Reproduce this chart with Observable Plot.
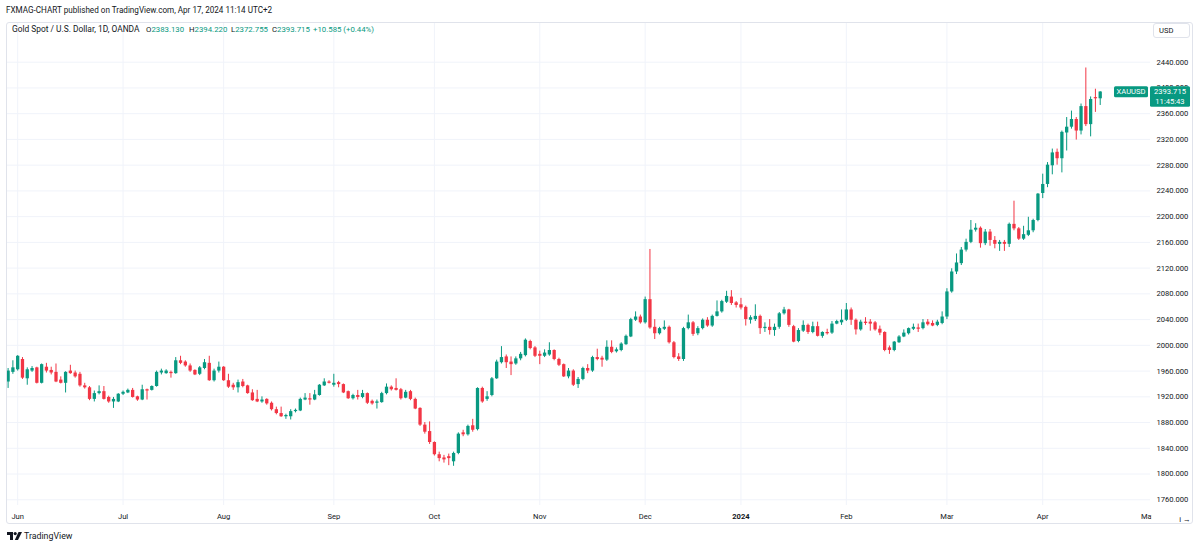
<!DOCTYPE html>
<html><head><meta charset="utf-8">
<script src="https://cdn.jsdelivr.net/npm/d3@7"></script>
<script src="https://cdn.jsdelivr.net/npm/@observablehq/plot@0.6"></script>
<style>
body{margin:0;width:1200px;height:549px;background:#fff;font-family:Roboto,"Noto Sans",sans-serif;color:#131722;position:relative;overflow:hidden}
#pub{position:absolute;left:6px;top:5px;font-size:8.15px;white-space:nowrap}
#chart{position:absolute;left:6px;top:22px}
#border{position:absolute;left:6px;top:22px;width:1187px;height:502px;border:1px solid #e0e3eb;border-radius:3px;box-sizing:border-box;pointer-events:none}
.lg{position:absolute;top:24px;font-size:7.8px;line-height:11px;white-space:nowrap}
.lg.t{font-size:8.4px}
.g{color:#089981}
#usd{position:absolute;left:1153px;top:23px;width:37px;height:15px;border:1px solid #e0e3eb;border-radius:3px;box-sizing:border-box;font-size:7.6px;line-height:13px;padding-left:5px;background:#fff}
#logo{position:absolute;left:7px;top:531px;font-size:8.8px;white-space:nowrap;display:flex;align-items:center;gap:2px}
</style></head><body>
<div id="pub">FXMAG-CHART published on TradingView.com, Apr 17, 2024 11:14 UTC+2</div>
<div id="chart"></div>
<div id="border"></div>
<div id="usd">USD</div>
<div id="logo"><svg width="15" height="8" viewBox="0 0 15 8"><path d="M0 0h6v8h-3v-5h-3z" fill="#131722"/><circle cx="8.2" cy="1.6" r="1.6" fill="#131722"/><path d="M11.5 0h3.5l-4 8h-3.2z" fill="#131722"/></svg><span>TradingView</span></div>
<script>
const seriesName = "Gold Spot / U.S. Dollar, 1D, OANDA";
const symbol = "XAUUSD";
const clockLabel = "11:45:43";
const startDate = "2023-05-30";
const axisEndDate = "2024-05-01";
const closedDays = ["2023-12-25", "2024-01-01", "2024-03-29"];
const monthLabels = ["Jun","Jul","Aug","Sep","Oct","Nov","Dec","2024","Feb","Mar","Apr","May"];
const priceTicks = [1760,1800,1840,1880,1920,1960,2000,2040,2080,2120,2160,2200,2240,2280,2320,2360,2400,2440];

const open = [
1943,1958,1962,1978,1948,1960,1965,1941,1966,1961,
1958,1946,1941,1960,1957,1955,1937,1934,1916,1925,
1928,1919,1912,1912,1924,1926,1930,1920,1915,1931,
1930,1936,1957,1956,1958,1956,1976,1974,1968,1961,
1955,1964,1972,1945,1960,1966,1945,1938,1934,1943,
1937,1926,1916,1912,1916,1910,1900,1894,1889,1889,
1897,1898,1915,1917,1915,1922,1937,1943,1938,1942,
1939,1928,1917,1922,1919,1925,1913,1910,1911,1925,
1935,1933,1931,1918,1928,1916,1902,1876,1866,1849,
1830,1825,1827,1819,1832,1864,1861,1875,1869,1933,
1916,1922,1948,1973,1982,1974,1971,1979,1984,2006,
1996,1986,1983,1985,1992,1978,1970,1951,1960,1939,
1947,1964,1960,1981,1980,1977,1997,1990,1992,2001,
2013,2039,2044,2035,2071,2028,2018,2025,2028,2004,
1982,1978,2026,2035,2018,2026,2039,2030,2045,2052,
2067,2075,2066,2063,2059,2039,2040,2045,2026,2028,
2023,2028,2049,2055,2029,2006,2022,2031,2020,2029,
2014,2020,2019,2033,2035,2039,2055,2039,2024,2036,
2036,2035,2025,2020,1996,1992,2004,2013,2018,2025,
2027,2026,2036,2034,2031,2034,2044,2083,2114,2127,
2148,2160,2179,2182,2158,2176,2163,2157,2160,2157,
2188,2181,2165,2171,2178,2194,2236,2250,2279,2300,
2290,2330,2339,2351,2333,2371,2343,2385,2383.13];

const high = [
1964,1976,1984,1981,1965,1967,1966,1971,1972,1966,
1971,1951,1959,1969,1960,1958,1941,1936,1929,1937,
1936,1921,1919,1925,1929,1932,1933,1921,1938,1932,
1937,1960,1963,1962,1960,1981,1983,1976,1971,1962,
1967,1978,1983,1963,1974,1967,1955,1941,1946,1947,
1938,1931,1930,1920,1917,1912,1904,1904,1893,1900,
1901,1918,1925,1925,1930,1939,1948,1945,1955,1944,
1940,1929,1924,1930,1930,1926,1915,1915,1927,1940,
1937,1948,1933,1930,1930,1918,1903,1880,1881,1850,
1834,1829,1831,1834,1864,1868,1876,1885,1934,1935,
1928,1950,1977,1998,1985,1982,1982,1989,2010,2008,
1998,1991,1993,2004,1993,1980,1971,1964,1962,1950,
1966,1970,1983,1994,1983,2007,2007,1996,2004,2016,
2042,2052,2047,2075,2149,2040,2028,2038,2030,2006,
1987,2028,2047,2037,2029,2041,2043,2047,2069,2070,
2084,2085,2068,2073,2061,2046,2063,2047,2035,2040,
2033,2051,2059,2056,2031,2026,2038,2033,2036,2036,
2021,2025,2037,2039,2055,2065,2058,2041,2039,2043,
2040,2037,2030,2021,1999,2006,2015,2024,2027,2033,
2033,2040,2040,2038,2039,2052,2088,2119,2142,2152,
2165,2194,2189,2184,2180,2180,2169,2163,2163,2190,
2224,2183,2185,2199,2196,2236,2266,2284,2305,2305,
2333,2354,2364,2354,2375,2431,2386,2398,2394.22];

const low = [
1933,1955,1960,1947,1938,1958,1940,1940,1957,1954,
1942,1940,1926,1955,1949,1935,1932,1914,1912,1923,
1915,1910,1902,1911,1922,1925,1918,1913,1914,1915,
1929,1935,1954,1955,1949,1955,1970,1966,1958,1953,
1953,1962,1944,1943,1957,1944,1933,1930,1926,1934,
1924,1913,1911,1910,1907,1898,1892,1888,1885,1884,
1895,1897,1914,1907,1914,1921,1936,1940,1935,1934,
1925,1916,1915,1915,1917,1908,1907,1901,1910,1923,
1929,1929,1915,1917,1914,1900,1874,1862,1846,1828,
1819,1817,1813,1812,1830,1858,1859,1865,1867,1910,
1913,1920,1947,1971,1964,1953,1969,1976,1982,1993,
1981,1970,1981,1983,1976,1967,1950,1948,1936,1933,
1945,1956,1958,1976,1966,1975,1987,1988,1990,2000,
2012,2037,2033,2033,2025,2009,2016,2023,2002,1979,
1975,1975,2024,2014,2015,2024,2028,2028,2044,2050,
2065,2062,2058,2055,2030,2033,2037,2017,2020,2016,
2014,2025,2047,2028,2004,2004,2020,2017,2018,2013,
2011,2016,2017,2032,2031,2037,2031,2016,2022,2031,
2022,2022,2015,1990,1986,1990,2003,2012,2016,2023,
2020,2024,2030,2029,2029,2032,2040,2081,2110,2124,
2145,2158,2176,2151,2155,2154,2150,2146,2146,2152,
2178,2163,2163,2169,2175,2192,2228,2245,2265,2280,
2268,2302,2336,2319,2327,2340,2324,2362,2372.755];

const close = [
1960,1965,1983,1949,1962,1964,1941,1970,1960,1957,
1943,1941,1958,1956,1951,1937,1934,1916,1925,1928,
1916,1912,1916,1924,1927,1930,1919,1915,1931,1929,
1936,1958,1960,1960,1956,1976,1972,1968,1960,1954,
1965,1973,1945,1960,1966,1945,1935,1934,1942,1936,
1925,1914,1912,1915,1909,1900,1894,1889,1891,1897,
1899,1916,1918,1915,1923,1938,1943,1941,1941,1939,
1926,1917,1922,1919,1925,1910,1909,1912,1925,1935,
1931,1930,1917,1927,1916,1901,1876,1865,1849,1830,
1824,1822,1824,1832,1862,1861,1874,1868,1933,1912,
1920,1948,1974,1981,1973,1970,1979,1986,2008,1995,
1983,1983,1988,1992,1978,1969,1951,1960,1938,1947,
1964,1960,1981,1978,1977,1997,1989,1993,2002,2014,
2040,2044,2035,2071,2027,2018,2026,2028,2004,1981,
1978,2026,2035,2017,2026,2039,2030,2045,2052,2068,
2076,2065,2062,2058,2040,2043,2045,2026,2028,2023,
2028,2049,2055,2031,2005,2023,2031,2020,2029,2014,
2020,2018,2033,2037,2039,2055,2039,2024,2036,2034,
2033,2024,2019,1992,1992,2005,2013,2019,2026,2028,
2025,2035,2032,2030,2036,2044,2083,2114,2128,2148,
2160,2179,2182,2158,2176,2163,2157,2160,2157,2188,
2181,2165,2172,2178,2194,2235,2250,2280,2299,2290,
2331,2339,2351,2333,2371,2343,2382,2383.13,2393.715];

const UP = "#089981", DOWN = "#f23645", GRID = "#f0f3fa", INK = "#131722";

// trading-day calendar (weekdays without closed days)
const days = [];
for (let t = Date.parse(startDate); t <= Date.parse(axisEndDate); t += 864e5) {
  const d = new Date(t), wd = d.getUTCDay(), s = d.toISOString().slice(0, 10);
  if (wd !== 0 && wd !== 6 && !closedDays.includes(s)) days.push(s);
}
const monthIdx = [];
for (let i = 1; i < days.length; i++) if (days[i].slice(5, 7) !== days[i - 1].slice(5, 7)) monthIdx.push(i);
const tickText = new Map(monthIdx.map((v, k) => [v, monthLabels[k]]));

const rows = close.map((c, i) => ({i, o: open[i], h: high[i], l: low[i], c, col: c >= open[i] ? UP : DOWN}));

const W = 1187, H = 502, PLOT_RIGHT = 1144, FRAME_BOTTOM = 483;
const plot = Plot.plot({
  width: W, height: H,
  marginLeft: 0, marginRight: W - PLOT_RIGHT, marginTop: 0, marginBottom: H - FRAME_BOTTOM,
  style: {fontFamily: "Roboto, sans-serif", fontSize: "7.6px", color: INK, background: "transparent"},
  x: {type: "linear", domain: [-0.334, 238.5]},
  y: {domain: [1751.1, 2501.7]},
  color: {type: "identity"},
  marks: [
    Plot.gridY(priceTicks, {stroke: GRID, strokeOpacity: 1}),
    Plot.gridX(monthIdx.slice(0, -1), {stroke: GRID, strokeOpacity: 1}),
    Plot.ruleX(rows, {x: "i", y1: "l", y2: "h", stroke: "col", strokeWidth: 1, clip: true}),
    Plot.ruleX(rows, {x: "i", y1: "o", y2: "c", stroke: "col", strokeWidth: 3.3, clip: true}),
    Plot.axisY(priceTicks, {anchor: "right", tickSize: 0, tickPadding: 6, tickFormat: d => d.toFixed(3), fill: INK}),
    Plot.axisX(monthIdx, {anchor: "bottom", tickSize: 0, tickPadding: 8, tickFormat: d => tickText.get(d), fill: INK})
  ]
});
document.getElementById("chart").appendChild(plot);

const svg = d3.select(plot);
const xs = plot.scale("x"), ys = plot.scale("y");
const N = close.length, last = close[N - 1], prev = close[N - 2];
const yL = ys.apply(last);
const boxTop = yL - 5.3;

const defs = svg.append("defs");
// month label cut by the price-scale edge (local coordinates of the text)
const mayX = xs.apply(monthIdx[monthIdx.length - 1]);
defs.append("clipPath").attr("id", "xclip").append("rect")
  .attr("x", -60).attr("y", -30).attr("width", 60 + (PLOT_RIGHT + 1 - mayX)).attr("height", 60);
svg.selectAll("text").each(function () {
  const t = d3.select(this);
  if (t.text() === "2024") t.attr("font-weight", "bold");
  if (t.text() === monthLabels[monthLabels.length - 1]) t.attr("clip-path", "url(#xclip)");
});
// price-scale label hidden behind the last-price box: keep only its visible sliver
priceTicks.forEach((p, k) => {
  const yp = ys.apply(p);
  if (Math.abs(yp - yL) < 12) {
    const id = "yclip" + k;
    defs.append("clipPath").attr("id", id).append("rect")
      .attr("x", -10).attr("y", -30).attr("width", 80).attr("height", Math.max(0, 30 + (boxTop - yp)));
    svg.selectAll("text").filter(function () { return d3.select(this).text() === p.toFixed(3); }).attr("clip-path", `url(#${id})`);
  }
});

// last price labels
const g = svg.append("g");
g.append("rect").attr("x", 1108).attr("y", boxTop).attr("width", 34).attr("height", 11).attr("rx", 1.5).attr("fill", UP);
g.append("text").attr("x", 1125).attr("y", yL + 0.3).attr("dy", "0.35em").attr("text-anchor", "middle").attr("fill", "#fff").attr("font-size", 7.6).text(symbol);
g.append("rect").attr("x", 1144).attr("y", boxTop).attr("width", 40).attr("height", 20.5).attr("rx", 1.5).attr("fill", UP);
g.append("text").attr("x", 1164).attr("y", yL + 0.3).attr("dy", "0.35em").attr("text-anchor", "middle").attr("fill", "#fff").attr("font-size", 7.6).text(last.toFixed(3));
g.append("text").attr("x", 1164).attr("y", yL + 9.8).attr("dy", "0.35em").attr("text-anchor", "middle").attr("fill", "#fff").attr("font-size", 7.6).text(clockLabel);

// legend line
const chg = last - prev, pct = chg / prev * 100;
const items = [
  [12, `<span>${seriesName}</span>`, "lg t"],
  [146, `O<span class="g">${open[N - 1].toFixed(3)}</span>`, "lg"],
  [189, `H<span class="g">${high[N - 1].toFixed(3)}</span>`, "lg"],
  [231, `L<span class="g">${low[N - 1].toFixed(3)}</span>`, "lg"],
  [272, `C<span class="g">${last.toFixed(3)}</span>`, "lg"],
  [313, `<span class="g">${chg >= 0 ? "+" : ""}${chg.toFixed(3)} (${chg >= 0 ? "+" : ""}${pct.toFixed(2)}%)</span>`, "lg"]
];
for (const [x, html, cls] of items) {
  const s = document.createElement("div");
  s.className = cls; s.style.left = x + "px"; s.innerHTML = html;
  document.body.appendChild(s);
}
</script>
</body></html>
